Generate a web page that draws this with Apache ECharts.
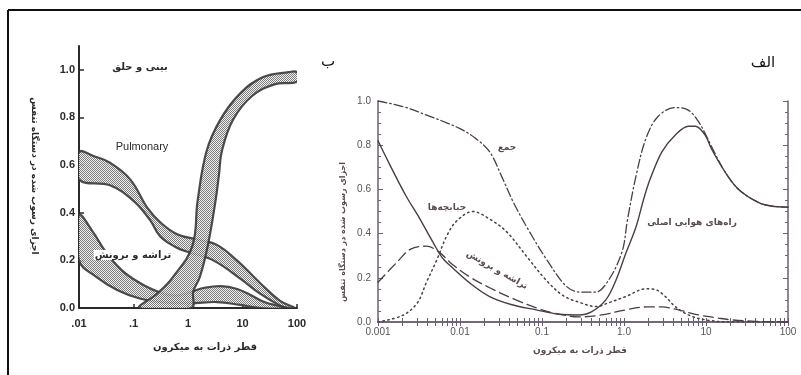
<!DOCTYPE html>
<html>
<head>
<meta charset="utf-8">
<script src="https://cdn.jsdelivr.net/npm/echarts@6/dist/echarts.min.js"></script>
<style>
  html, body { margin: 0; padding: 0; background: #fff; }
  #chart { width: 801px; height: 375px; }
</style>
</head>
<body>
<div id="chart"></div>
<script>
// ---------- Panel "ب": deposition bands per region (diameter in µm, fraction) ----------
const nasalUpper = [[0.13,0],[0.27,0.06],[0.53,0.13],[1.2,0.26],[1.5,0.45],[2.2,0.66],[3.9,0.79],[9,0.9],[24,0.97],[70,0.99],[100,0.99]];
const nasalLower = [[1.15,0],[1.25,0.07],[1.65,0.13],[2.3,0.26],[3.2,0.45],[3.7,0.56],[4.2,0.66],[6.7,0.79],[15,0.89],[40,0.94],[100,0.95]];
const pulmUpper = [[0.01,0.655],[0.02,0.635],[0.037,0.61],[0.087,0.54],[0.18,0.42],[0.31,0.36],[0.63,0.31],[1.66,0.285],[3.4,0.265],[7.9,0.2],[21,0.105],[49,0.03],[92,0]];
const pulmLower = [[0.01,0.54],[0.037,0.515],[0.1,0.45],[0.2,0.37],[0.31,0.3],[0.6,0.255],[1,0.235],[2.9,0.2],[9.5,0.12],[21,0.06],[49,0.01],[70,0]];
const tbUpper = [[0.01,0.39],[0.018,0.32],[0.03,0.24],[0.06,0.16],[0.12,0.11],[0.27,0.07],[0.6,0.052],[1.2,0.07],[2,0.085],[4,0.092],[8,0.08],[14,0.055],[25,0.025],[60,0]];
const tbLower = [[0.01,0.2],[0.021,0.13],[0.05,0.076],[0.13,0.04],[0.3,0.025],[1.1,0.02],[3.4,0.025],[9,0.013],[21,0]];

const leftXTicks = [0.01, 0.1, 1, 10, 100];
const leftXLabels = ['.01', '.1', '1', '10', '100'];
const leftYTicks = [0, 0.2, 0.4, 0.6, 0.8, 1.0];
const leftYLabels = ['0.0', '0.2', '0.4', '0.6', '0.8', '1.0'];

// ---------- Panel "الف": deposition curves (diameter in µm, fraction) ----------
const totalDep = [[0.001,1.0],[0.002,0.975],[0.004,0.935],[0.007,0.9],[0.01,0.875],[0.015,0.835],[0.023,0.77],[0.033,0.65],[0.045,0.54],[0.07,0.41],[0.12,0.27],[0.2,0.16],[0.3,0.135],[0.45,0.135],[0.65,0.19],[0.95,0.32],[1.1,0.46],[1.4,0.66],[1.85,0.83],[2.6,0.93],[4.2,0.97],[6,0.96],[8,0.91],[10,0.845],[12,0.785],[17,0.68],[25,0.6],[44,0.54],[62,0.525],[100,0.52]];
const headDep = [[0.001,0.82],[0.0014,0.71],[0.0022,0.57],[0.0032,0.47],[0.0047,0.36],[0.0061,0.29],[0.0081,0.245],[0.013,0.178],[0.023,0.115],[0.043,0.078],[0.085,0.055],[0.16,0.035],[0.28,0.032],[0.4,0.046],[0.6,0.1],[0.8,0.19],[1.05,0.31],[1.4,0.43],[1.75,0.56],[2.1,0.65],[2.9,0.77],[4.2,0.845],[6.1,0.886],[7.4,0.886],[9.8,0.845],[11.6,0.785],[17,0.68],[25,0.6],[44,0.54],[62,0.525],[100,0.52]];
const tbDep = [[0.001,0.18],[0.0017,0.27],[0.0025,0.33],[0.0039,0.343],[0.0056,0.315],[0.0081,0.26],[0.013,0.205],[0.023,0.155],[0.048,0.1],[0.1,0.055],[0.18,0.032],[0.28,0.023],[0.53,0.032],[1.05,0.055],[1.85,0.068],[2.9,0.068],[4.6,0.055],[8.1,0.032],[14,0.018],[20,0.01],[40,0.003],[100,0]];
const alvDep = [[0.001,0],[0.002,0.03],[0.003,0.085],[0.0039,0.18],[0.0052,0.28],[0.0069,0.39],[0.0091,0.457],[0.0143,0.5],[0.0229,0.466],[0.0366,0.41],[0.064,0.3],[0.112,0.19],[0.18,0.12],[0.28,0.09],[0.46,0.07],[0.65,0.087],[1.05,0.115],[1.85,0.15],[2.44,0.146],[3.2,0.115],[4.2,0.07],[6.1,0.032],[9.8,0.01],[20,0],[100,0]];

const rightXTicks = [0.001, 0.01, 0.1, 1, 10, 100];
const rightXLabels = ['0.001', '0.01', '0.1', '1.0', '10', '100'];
const rightYLabels = ['0.0', '0.2', '0.4', '0.6', '0.8', '1.0'];

// log-axis tick marks: every decade plus 2..9 inside each decade
const rightXAllTicks = [];
for (let i = 0; i < rightXTicks.length; i++) {
  rightXAllTicks.push(rightXTicks[i]);
  if (i < rightXTicks.length - 1) {
    for (let m = 2; m <= 9; m++) rightXAllTicks.push(+(m * rightXTicks[i]).toPrecision(3));
  }
}

// fine stippled fill used for the bands
const tile = document.createElement('canvas');
tile.width = 2; tile.height = 2;
(function () {
  const c = tile.getContext('2d');
  c.fillStyle = '#f0f0f0'; c.fillRect(0, 0, 2, 2);
  c.fillStyle = '#6e6e6e';
  c.fillRect(0, 0, 1, 1); c.fillRect(1, 1, 1, 1);
})();
const stipple = { image: tile, repeat: 'repeat' };

const FA = "'DejaVu Sans', sans-serif";
const LAT = "'Liberation Sans', Arial, sans-serif";
const inkL = '#2a2a2a';
const inkR = '#4a3e45';
const boxR = '#6d5f73';

function bandSeries(upper, lower) {
  return {
    type: 'custom',
    xAxisIndex: 0,
    yAxisIndex: 0,
    silent: true,
    clip: true,
    data: [[1, 0.5]],
    renderItem: function (params, api) {
      const top = upper.map(function (p) { return api.coord(p); });
      const bottom = lower.map(function (p) { return api.coord(p); }).reverse();
      return {
        type: 'polygon',
        shape: { points: top.concat(bottom), smooth: 0.4 },
        style: { fill: stipple, stroke: '#3a3a3a', lineWidth: 2.2, opacity: 0.9 }
      };
    }
  };
}

function curve(data, dash, width) {
  return {
    type: 'line',
    xAxisIndex: 1,
    yAxisIndex: 1,
    data: data,
    showSymbol: false,
    smooth: 0.35,
    silent: true,
    lineStyle: { color: inkR, width: width, type: dash, cap: 'round' }
  };
}

const logLabel = function (ticks, labels) {
  return function (v) {
    const i = Math.round(Math.log10(v) - Math.log10(ticks[0]));
    return labels[i] !== undefined ? labels[i] : '';
  };
};

const chart = echarts.init(document.getElementById('chart'), null, { renderer: 'canvas' });

chart.setOption({
  animation: false,
  backgroundColor: '#fff',
  grid: [
    { left: 79, top: 46, width: 218, height: 262 },
    { left: 378, top: 101, width: 410, height: 221 }
  ],
  xAxis: [
    {
      type: 'log', gridIndex: 0, logBase: 10, min: 0.01, max: 100,
      axisLine: { lineStyle: { color: inkL, width: 2 } },
      axisTick: { inside: true, length: 4, customValues: leftXTicks, lineStyle: { color: inkL, width: 1.5 } },
      axisLabel: { customValues: leftXTicks, margin: 10, fontSize: 11, fontWeight: 'bold', color: inkL, fontFamily: LAT,
                   formatter: logLabel(leftXTicks, leftXLabels) },
      splitLine: { show: false }
    },
    {
      type: 'log', gridIndex: 1, logBase: 10, min: 0.001, max: 100, position: 'bottom',
      axisLine: { lineStyle: { color: boxR, width: 1.5 } },
      axisTick: { inside: true, length: 4, customValues: rightXAllTicks, lineStyle: { color: boxR, width: 1 } },
      axisLabel: { customValues: rightXTicks, margin: 5, fontSize: 10, color: '#555', fontFamily: LAT,
                   formatter: logLabel(rightXTicks, rightXLabels) },
      splitLine: { show: false }
    },
    {
      type: 'log', gridIndex: 1, logBase: 10, min: 0.001, max: 100, position: 'top',
      axisLine: { lineStyle: { color: boxR, width: 1.5 } },
      axisTick: { inside: true, length: 4, customValues: rightXAllTicks, lineStyle: { color: boxR, width: 1 } },
      axisLabel: { show: false },
      splitLine: { show: false }
    }
  ],
  yAxis: [
    {
      type: 'value', gridIndex: 0, min: 0, max: 1.1, interval: 0.2,
      axisLine: { show: true, lineStyle: { color: inkL, width: 2 } },
      axisTick: { show: true, inside: true, length: 5, customValues: leftYTicks, lineStyle: { color: inkL, width: 1.5 } },
      axisLabel: { customValues: leftYTicks, margin: 4, fontSize: 11, fontWeight: 'bold', color: inkL, fontFamily: LAT,
                   formatter: function (v) { return leftYLabels[Math.round(v / 0.2)]; } },
      splitLine: { show: false }
    },
    {
      type: 'value', gridIndex: 1, min: 0, max: 1, interval: 0.2, position: 'left',
      axisLine: { show: true, lineStyle: { color: boxR, width: 1.5 } },
      axisTick: { show: true, inside: true, length: 5, lineStyle: { color: boxR } },
      minorTick: { show: true, splitNumber: 4, length: 3, lineStyle: { color: boxR } },
      axisLabel: { margin: 7, fontSize: 10, color: '#555', fontFamily: LAT,
                   formatter: function (v) { return rightYLabels[Math.round(v / 0.2)]; } },
      splitLine: { show: false }
    },
    {
      type: 'value', gridIndex: 1, min: 0, max: 1, interval: 0.2, position: 'right',
      axisLine: { show: true, lineStyle: { color: boxR, width: 1.5 } },
      axisTick: { show: true, inside: true, length: 5, lineStyle: { color: boxR } },
      minorTick: { show: true, splitNumber: 4, length: 3, lineStyle: { color: boxR } },
      axisLabel: { show: false },
      splitLine: { show: false }
    }
  ],
  series: [
    bandSeries(pulmUpper, pulmLower),
    bandSeries(tbUpper, tbLower),
    bandSeries(nasalUpper, nasalLower),
    curve(headDep, 'solid', 1.4),
    curve(totalDep, [9, 3, 1.5, 3], 1.3),
    curve(tbDep, [10, 5], 1.3),
    curve(alvDep, [1.5, 3.5], 1.5)
  ],
  graphic: [
    { type: 'line', shape: { x1: 8, y1: 10, x2: 801, y2: 10 }, style: { stroke: '#111', lineWidth: 2 }, silent: true },
    { type: 'line', shape: { x1: 8, y1: 10, x2: 8, y2: 375 }, style: { stroke: '#111', lineWidth: 2 }, silent: true },

    // panel letters
    { type: 'text', x: 328, y: 62, style: { text: 'ب', font: '15px ' + FA, fill: '#111', align: 'center', verticalAlign: 'middle' } },
    { type: 'text', x: 763, y: 63, style: { text: 'الف', font: '15px ' + FA, fill: '#111', align: 'center', verticalAlign: 'middle' } },

    // panel "ب" annotations
    { type: 'text', x: 140, y: 67, style: { text: 'بینی و حلق', font: 'bold 10px ' + FA, fill: inkL, align: 'center', verticalAlign: 'middle' } },
    { type: 'text', x: 142, y: 147, style: { text: 'Pulmonary', font: '11px ' + LAT, fill: inkL, align: 'center', verticalAlign: 'middle' } },
    { type: 'text', x: 133, y: 255, z: 10, style: { text: 'تراشه و برونش', font: 'bold 10px ' + FA, fill: inkL, align: 'center', verticalAlign: 'middle',
      backgroundColor: '#fff', padding: [0, 1] } },
    { type: 'text', x: 205, y: 347, style: { text: 'قطر ذرات به میکرون', font: 'bold 10px ' + FA, fill: inkL, align: 'center', verticalAlign: 'middle' } },
    { type: 'text', x: 34, y: 176, rotation: -Math.PI / 2, style: { text: 'اجزای رسوب شده در دستگاه تنفس', font: 'bold 9px ' + FA, fill: inkL, align: 'center', verticalAlign: 'middle' } },

    // panel "الف" annotations
    { type: 'text', x: 507, y: 148, style: { text: 'جمع', font: 'bold 9px ' + FA, fill: '#5a4a50', align: 'center', verticalAlign: 'middle' } },
    { type: 'text', x: 447, y: 208, style: { text: 'حبابچه‌ها', font: 'bold 9px ' + FA, fill: '#5a4a50', align: 'center', verticalAlign: 'middle' } },
    { type: 'text', x: 497, y: 270, rotation: -0.52, style: { text: 'تراشه و برونش', font: 'bold 9px ' + FA, fill: '#5a4a50', align: 'center', verticalAlign: 'middle' } },
    { type: 'text', x: 692, y: 223, style: { text: 'راه‌های هوایی اصلی', font: 'bold 9px ' + FA, fill: '#5a4a50', align: 'center', verticalAlign: 'middle' } },
    { type: 'text', x: 580, y: 351, style: { text: 'قطر ذرات به میکرون', font: 'bold 9px ' + FA, fill: '#5a4a50', align: 'center', verticalAlign: 'middle' } },
    { type: 'text', x: 343, y: 232, rotation: Math.PI / 2, style: { text: 'اجزای رسوب شده در دستگاه تنفس', font: 'bold 8px ' + FA, fill: '#5a4a50', align: 'center', verticalAlign: 'middle' } }
  ]
});
</script>
</body>
</html>
